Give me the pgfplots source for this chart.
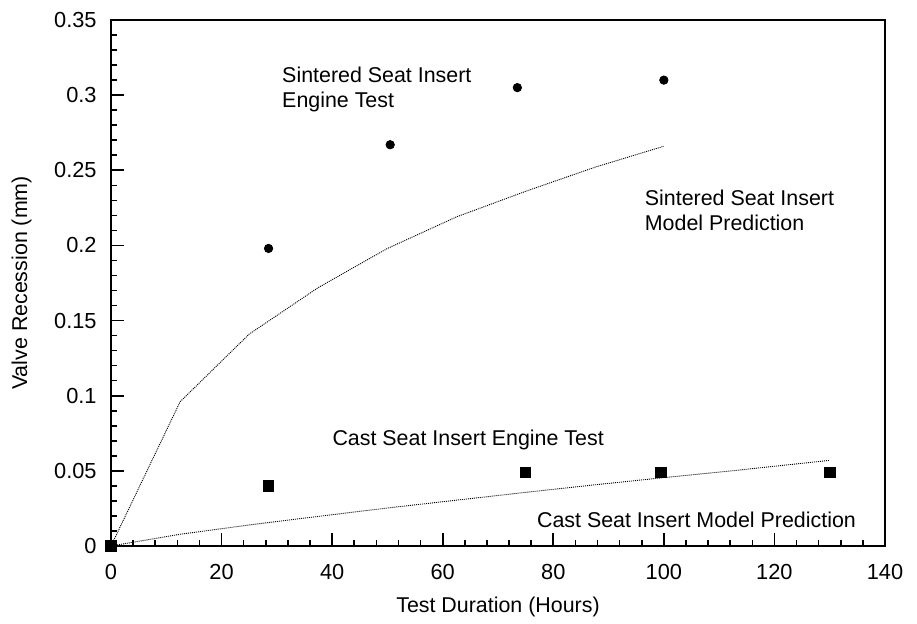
\documentclass[border=0pt]{standalone}
\usepackage{fontspec}
\setmainfont{Liberation Sans}
\usepackage{pgfplots}
\pgfplotsset{compat=1.18}
\begin{document}
\begin{tikzpicture}
\begin{axis}[
 scale only axis, width=387pt, height=263pt,
 xmin=0, xmax=140, ymin=0, ymax=0.35,
 xtick={0,20,40,60,80,100,120,140},
 ytick={0,0.05,0.1,0.15,0.2,0.25,0.3,0.35},
 minor x tick num=4, minor y tick num=4,
 tick align=inside, xtick pos=bottom, ytick pos=left,
 major tick length=6.5pt, minor tick length=3.2pt,
 axis line style={line width=1pt},
 every tick/.style={black, line width=0.8pt},
 scaled y ticks=false,
 yticklabel style={/pgf/number format/fixed, /pgf/number format/precision=2, anchor=east, inner sep=0pt, xshift=-7pt},
 xticklabel style={anchor=center, inner sep=0pt, yshift=-13pt},
 /pgf/number format/assume math mode=true,
 ticklabel style={font=\fontsize{10.9}{12}\selectfont},
 label style={font=\fontsize{10.7}{12}\selectfont},
 xlabel={Test Duration (Hours)}, ylabel={Valve Recession (mm)},
 xlabel style={at={(axis description cs:0.5,-0.116)}, anchor=center},
 ylabel style={at={(axis description cs:-0.1155,0.5)}, anchor=center},
 clip=false,
]
% Sintered model prediction
\addplot[black, line width=0.45pt, dash pattern=on 0.5pt off 0.5pt] coordinates {
 (0,0) (12.5,0.096) (25,0.141) (37.5,0.172) (50,0.198) (62.5,0.219) (75,0.236) (87.5,0.252) (100,0.266)};
% Cast model prediction
\addplot[black, line width=0.45pt, dash pattern=on 0.5pt off 0.5pt] coordinates {
 (0,0) (12.5,0.0078) (25,0.0140) (37.5,0.0197) (50,0.0253) (62.5,0.0305) (75,0.0357) (87.5,0.0407) (100,0.0455) (112.5,0.0501) (130,0.057)};
% Sintered engine test
\addplot[only marks, mark=*, mark size=2.1pt, black] coordinates {
 (28.5,0.198) (50.5,0.267) (73.5,0.305) (100,0.310)};
% Cast engine test
\addplot[only marks, mark=square*, mark size=2.6pt, black, mark options={rounded corners=0.6pt}] coordinates {
 (0,0) (28.5,0.040) (75,0.049) (99.5,0.049) (130,0.049)};
\node[anchor=west, align=left, inner sep=0pt, font=\fontsize{10.7}{12.5}\selectfont] at (axis cs:30.9,0.304) {Sintered Seat Insert\\Engine Test};
\node[anchor=west, align=left, inner sep=0pt, font=\fontsize{10.7}{12.5}\selectfont] at (axis cs:96.5,0.2236) {Sintered Seat Insert\\Model Prediction};
\node[anchor=west, inner sep=0pt, font=\fontsize{10.7}{12.5}\selectfont] at (axis cs:40,0.0705) {Cast Seat Insert Engine Test};
\node[anchor=west, inner sep=0pt, font=\fontsize{10.7}{12.5}\selectfont] at (axis cs:77,0.0173) {Cast Seat Insert Model Prediction};
\end{axis}
\path (current axis.south west) ++(-55.5pt,-36.5pt) rectangle ++(458.5pt,309.5pt);
\end{tikzpicture}
\end{document}
